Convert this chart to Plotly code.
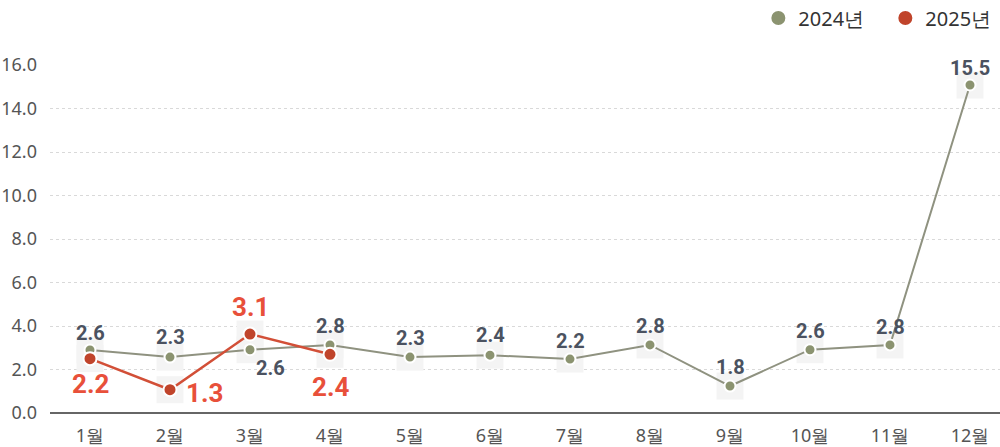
import plotly.graph_objects as go

months = ["1월", "2월", "3월", "4월", "5월", "6월", "7월", "8월", "9월", "10월", "11월", "12월"]
y_ticks = [0, 2, 4, 6, 8, 10, 12, 14, 16]
y_tick_labels = ["0.0", "2.0", "4.0", "6.0", "8.0", "10.0", "12.0", "14.0", "16.0"]

# plotted positions
v2024 = [2.9, 2.57, 2.91, 3.13, 2.57, 2.66, 2.48, 3.13, 1.24, 2.91, 3.13, 15.08]
v2025 = [2.5, 1.07, 3.63, 2.7]
# printed labels
lab2024 = ["2.6", "2.3", "2.6", "2.8", "2.3", "2.4", "2.2", "2.8", "1.8", "2.6", "2.8", "15.5"]
lab2025 = ["2.2", "1.3", "3.1", "2.4"]

# label offsets (px) relative to the points
off2024 = [(0, 17), (0, 20), (20, -18), (0, 19), (0, 19), (0, 20), (0, 18), (0, 19), (0, 19), (0, 19), (0, 18), (0, 17)]
off2025 = [(0, -25), (34, -3), (0, 27), (0, -33)]

x24 = list(range(len(v2024)))
x25 = list(range(len(v2025)))

c24 = "#8b9370"
c24line = "#8f9280"
c25 = "#c0442b"
c25line = "#d24f37"

fig = go.Figure()

# faint label-box backgrounds
fig.add_trace(go.Scatter(x=x24, y=v2024, mode="markers", showlegend=False, hoverinfo="skip", cliponaxis=False,
                         marker=dict(symbol="square", size=27, color="#f4f4f4", line=dict(width=0))))
fig.add_trace(go.Scatter(x=x25, y=v2025, mode="markers", showlegend=False, hoverinfo="skip", cliponaxis=False,
                         marker=dict(symbol="square", size=27, color="#f4f4f4", line=dict(width=0))))

fig.add_trace(go.Scatter(x=x24, y=v2024, mode="lines+markers", name="2024년", showlegend=False, cliponaxis=False,
                         line=dict(color=c24line, width=2),
                         marker=dict(size=11, color=c24, line=dict(color="white", width=2))))
fig.add_trace(go.Scatter(x=x25, y=v2025, mode="lines+markers", name="2025년", showlegend=False, cliponaxis=False,
                         line=dict(color=c25line, width=2.5),
                         marker=dict(size=13, color=c25, line=dict(color="white", width=2))))

# legend-only traces
fig.add_trace(go.Scatter(x=[None], y=[None], mode="markers", name="2024년",
                         marker=dict(size=16, color=c24, line=dict(color="white", width=2))))
fig.add_trace(go.Scatter(x=[None], y=[None], mode="markers", name="2025년",
                         marker=dict(size=16, color=c25, line=dict(color="white", width=2))))

for i, (v, t) in enumerate(zip(v2024, lab2024)):
    dx, dy = off2024[i]
    fig.add_annotation(x=x24[i], y=v, text=t, showarrow=False, xshift=dx, yshift=dy,
                       font=dict(family="Roboto", size=20, color="#4b5260", weight="bold"))
for i, (v, t) in enumerate(zip(v2025, lab2025)):
    dx, dy = off2025[i]
    fig.add_annotation(x=x25[i], y=v, text=t, showarrow=False, xshift=dx, yshift=dy,
                       font=dict(family="Roboto", size=26, color="#e8503a", weight="bold"))

fig.update_layout(
    width=1000, height=447,
    margin=dict(l=50, r=0, t=65, b=34, autoexpand=False),
    plot_bgcolor="white", paper_bgcolor="white",
    font=dict(family="Noto Sans", size=18, color="#555555"),
    legend=dict(orientation="h", x=1.013, xanchor="right", y=1.135, yanchor="middle",
                font=dict(size=20, color="#333333"), traceorder="normal",
                entrywidthmode="pixels", entrywidth=82, itemwidth=30),
    showlegend=True,
)

fig.update_xaxes(tickmode="array", tickvals=list(range(12)), ticktext=months,
                 range=[-0.5, 11.375], showgrid=False, zeroline=False, automargin=False,
                 showline=False, ticks="", ticklabelstandoff=10,
                 tickfont=dict(size=18, color="#555555"))
fig.update_yaxes(tickmode="array", tickvals=y_ticks, ticktext=y_tick_labels, range=[0, 16],
                 showgrid=True, gridcolor="#d9d9d9", griddash="dot", gridwidth=1,
                 zeroline=True, zerolinecolor="#666666", zerolinewidth=1.5, automargin=False,
                 showline=False, ticks="", ticklabelstandoff=12,
                 tickfont=dict(size=18, color="#555555"))

fig.write_html("out.html", config={"displayModeBar": False},
               post_script="document.body.style.margin='0';document.body.style.overflow='hidden';")
